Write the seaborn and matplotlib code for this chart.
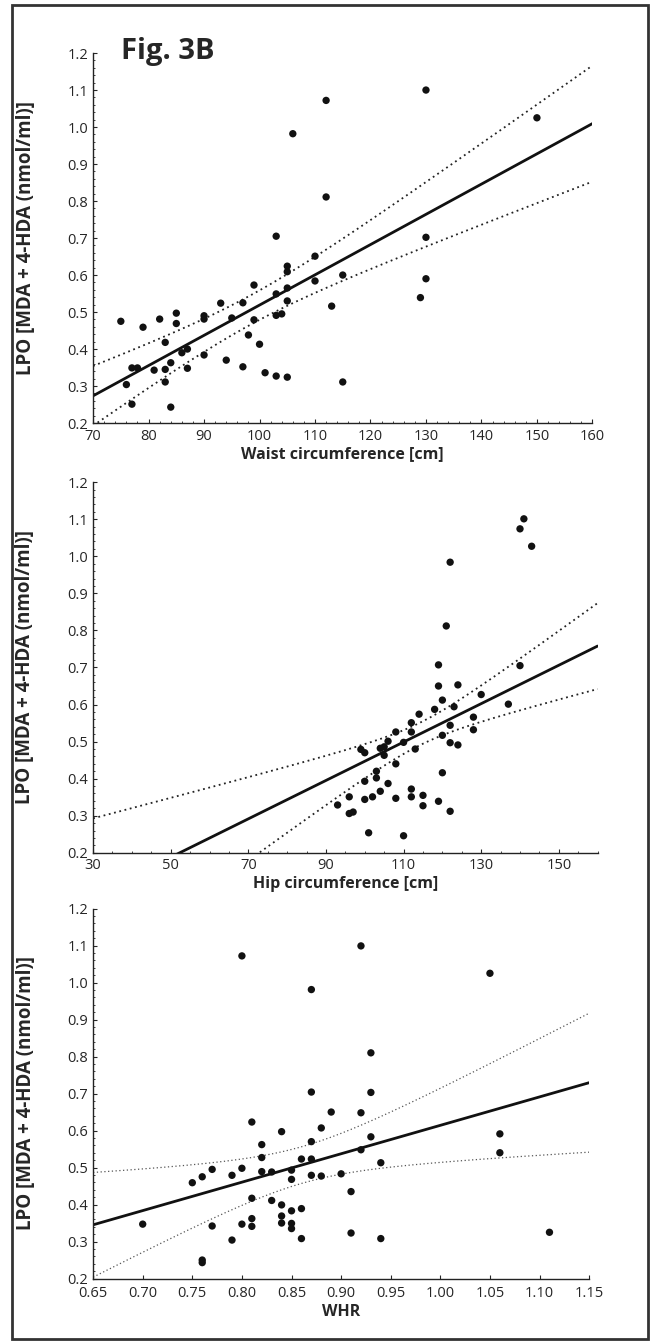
import numpy as np
import pandas as pd
import matplotlib
matplotlib.use("Agg")
import matplotlib.pyplot as plt
import seaborn as sns
from matplotlib.ticker import MultipleLocator, FormatStrFormatter
from matplotlib.patches import Rectangle

# values
waist_x = [75, 76, 77, 78, 77, 79, 81, 82, 83, 83, 83, 84, 84, 85, 85, 86, 87, 87,
           90, 90, 90, 93, 94, 95, 97, 97, 98, 99, 99, 100, 101, 103, 103, 103, 103,
           104, 105, 105, 105, 105, 105, 106, 110, 110, 112, 112, 113, 115, 115,
           130, 150, 130, 130, 129]
waist_y = [0.475, 0.304, 0.349, 0.349, 0.251, 0.459, 0.343, 0.481, 0.418, 0.345, 0.311,
           0.363, 0.243, 0.497, 0.469, 0.39, 0.40, 0.348, 0.49, 0.481, 0.384, 0.524,
           0.37, 0.484, 0.525, 0.352, 0.438, 0.573, 0.479, 0.413, 0.336, 0.705, 0.549,
           0.491, 0.327, 0.495, 0.624, 0.609, 0.565, 0.53, 0.324, 0.982, 0.651, 0.584,
           1.072, 0.811, 0.516, 0.6, 0.311, 1.10, 1.025, 0.702, 0.59, 0.539]

hip_x = [93, 96, 96, 97, 99, 100, 100, 100, 101, 102, 103, 103, 104, 104, 105, 105,
         106, 106, 108, 108, 108, 110, 110, 112, 112, 112, 112, 113, 114, 115, 115,
         118, 119, 119, 119, 120, 120, 120, 121, 122, 122, 122, 122, 123, 124, 124,
         128, 128, 130, 137, 140, 140, 141, 143]
hip_y = [0.329, 0.351, 0.306, 0.31, 0.479, 0.47, 0.393, 0.344, 0.254, 0.351, 0.42,
         0.402, 0.482, 0.366, 0.486, 0.463, 0.501, 0.387, 0.526, 0.44, 0.347, 0.498,
         0.246, 0.551, 0.526, 0.372, 0.351, 0.48, 0.574, 0.355, 0.327, 0.587, 0.707,
         0.65, 0.339, 0.612, 0.517, 0.416, 0.812, 0.984, 0.544, 0.497, 0.312, 0.594,
         0.653, 0.491, 0.566, 0.532, 0.627, 0.601, 1.074, 0.705, 1.101, 1.027]
# the published hip line is flatter than a fit of the dots: read it off the plot
hip_line = (-0.071, 0.00518)   # intercept, slope
hip_resid_sd = 0.111

whr_x = [0.70, 0.75, 0.76, 0.76, 0.76, 0.77, 0.77, 0.79, 0.79, 0.80, 0.80, 0.80,
         0.81, 0.81, 0.81, 0.81, 0.82, 0.82, 0.82, 0.83, 0.83, 0.84, 0.84, 0.84, 0.84,
         0.85, 0.85, 0.85, 0.85, 0.85, 0.86, 0.86, 0.86, 0.87, 0.87, 0.87, 0.87, 0.87,
         0.88, 0.88, 0.89, 0.90, 0.91, 0.91, 0.92, 0.92, 0.92, 0.93, 0.93, 0.93,
         0.94, 0.94, 1.05, 1.06, 1.06, 1.11]
whr_y = [0.347, 0.459, 0.475, 0.25, 0.243, 0.495, 0.342, 0.479, 0.304, 1.072, 0.498,
         0.347, 0.623, 0.417, 0.362, 0.341, 0.562, 0.527, 0.489, 0.488, 0.411, 0.597,
         0.399, 0.369, 0.35, 0.493, 0.468, 0.383, 0.349, 0.335, 0.523, 0.389, 0.308,
         0.981, 0.704, 0.57, 0.523, 0.479, 0.607, 0.477, 0.65, 0.483, 0.435, 0.323,
         1.099, 0.648, 0.548, 0.81, 0.703, 0.583, 0.513, 0.308, 1.025, 0.591, 0.54,
         0.325]

ylabel = "LPO [MDA + 4-HDA (nmol/ml)]"

sns.set_style("ticks")
plt.rcParams["font.family"] = ["Open Sans", "DejaVu Sans"]
plt.rcParams["xtick.direction"] = "in"
plt.rcParams["ytick.direction"] = "in"


def fit_band(x, y, xmin, xmax, line=None, sd=None):
    x = np.asarray(x, float)
    y = np.asarray(y, float)
    n = len(x)
    if line is None:
        b, a = np.polyfit(x, y, 1)
    else:
        a, b = line
    if sd is None:
        resid = y - (a + b * x)
        sd = np.sqrt(np.sum(resid ** 2) / (n - 2))
    sxx = np.sum((x - x.mean()) ** 2)
    xs = np.linspace(xmin, xmax, 200)
    yh = a + b * xs
    se = sd * np.sqrt(1.0 / n + (xs - x.mean()) ** 2 / sxx)
    t = 2.006
    return pd.DataFrame({"x": xs, "fit": yh, "lo": yh - t * se, "hi": yh + t * se})


def panel(ax, x, y, xlim, xticks, xminor, xlabel, xfmt, band_color, band_lw,
          line=None, sd=None, xpad=4):
    band = fit_band(x, y, xlim[0], xlim[1], line, sd)
    sns.lineplot(data=band, x="x", y="hi", ax=ax, color=band_color, lw=band_lw,
                 linestyle=(0, (1, 2)))
    sns.lineplot(data=band, x="x", y="lo", ax=ax, color=band_color, lw=band_lw,
                 linestyle=(0, (1, 2)))
    sns.lineplot(data=band, x="x", y="fit", ax=ax, color="#111111", lw=2.0)
    sns.scatterplot(x=x, y=y, ax=ax, color="#111111", s=28, edgecolor="none", zorder=3)
    ax.set_xlim(*xlim)
    ax.set_ylim(0.2, 1.2)
    ax.set_xticks(xticks)
    if xminor:
        ax.xaxis.set_minor_locator(MultipleLocator(xminor))
    ax.yaxis.set_major_locator(MultipleLocator(0.1))
    ax.yaxis.set_minor_locator(MultipleLocator(0.02))
    ax.xaxis.set_major_formatter(FormatStrFormatter(xfmt))
    ax.yaxis.set_major_formatter(FormatStrFormatter("%.1f"))
    ax.tick_params(which="major", length=3, width=0.8, labelsize=10.5)
    ax.tick_params(axis="x", which="major", pad=xpad)
    ax.tick_params(which="minor", length=1.5, width=0.6)
    ax.set_xlabel(xlabel, fontsize=11.5, fontweight="bold", labelpad=2)
    ax.set_ylabel(ylabel, fontsize=13.5, fontweight="bold")
    ax.yaxis.set_label_coords(-0.115, 0.5)
    sns.despine(ax=ax)
    for sp in ax.spines.values():
        sp.set_linewidth(1.0)
        sp.set_color("#222222")


fig = plt.figure(figsize=(6.51, 13.43), dpi=100)
ax1 = fig.add_axes([0.143, 0.685, 0.767, 0.2755])
ax2 = fig.add_axes([0.143, 0.365, 0.775, 0.276])
ax3 = fig.add_axes([0.143, 0.048, 0.762, 0.2755])

panel(ax1, waist_x, waist_y, (70, 160), np.arange(70, 161, 10), 2,
      "Waist circumference [cm]", "%d", "#222222", 1.3)
panel(ax2, hip_x, hip_y, (30, 160), np.arange(30, 151, 20), 5,
      "Hip circumference [cm]", "%d", "#222222", 1.3, hip_line, hip_resid_sd)
panel(ax3, whr_x, whr_y, (0.65, 1.15), np.arange(0.65, 1.1501, 0.05), None,
      "WHR", "%.2f", "#555555", 0.9, xpad=5.5)

fig.text(0.186, 0.9725, "Fig. 3B", fontsize=21, fontweight="bold", va="top", ha="left")

fig.patches.append(Rectangle((0.018, 0.003), 0.977, 0.993, transform=fig.transFigure,
                             fill=False, ec="#333333", lw=2))

plt.savefig("out.png", dpi=100)
plt.close()
